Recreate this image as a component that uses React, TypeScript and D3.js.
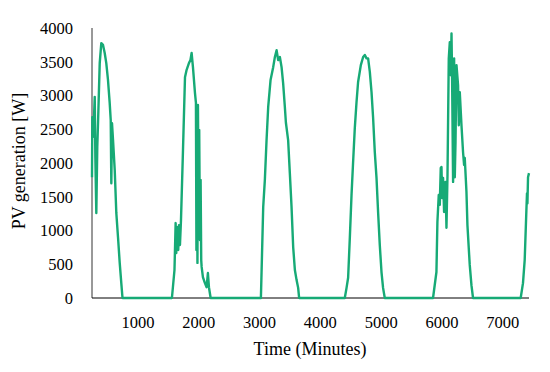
import * as d3 from 'd3';

// minutes and PV output (W)
const minutes = [
  243, 248, 260, 276, 288, 298, 314, 330, 342, 370, 396, 424, 452, 478, 506, 534, 551, 561, 572, 589, 617, 643, 671, 699, 725, 745,
  1558, 1600, 1619, 1629, 1649, 1662, 1674, 1690, 1707, 1740, 1773, 1800, 1838, 1863, 1882, 1904, 1937, 1953, 1961, 1970, 1978, 1986,
  1997, 2007, 2019, 2030, 2040, 2047, 2068, 2101, 2129, 2150, 2167, 2195,
  3022, 3060, 3087, 3115, 3142, 3181, 3224, 3252, 3280, 3306, 3334, 3362, 3388, 3416, 3433, 3470, 3498, 3526, 3553, 3581, 3609, 3635, 3651,
  4402, 4431, 4457, 4485, 4513, 4539, 4567, 4595, 4621, 4666, 4704, 4732, 4760, 4786, 4814, 4842, 4868, 4896, 4924, 4950, 4978, 5006, 5032, 5060,
  5854, 5910, 5926, 5948, 5965, 5981, 5993, 6003, 6019, 6036, 6059, 6075, 6092, 6113, 6130, 6146, 6158, 6168, 6184, 6201, 6212, 6224,
  6240, 6266, 6278, 6294, 6322, 6348, 6365, 6376, 6404, 6420, 6458, 6486, 6512,
  7296, 7334, 7362, 7390, 7400, 7407, 7417, 7433,
];
const power = [
  1790, 2680, 2385, 2680, 2980, 2090, 1260, 2240, 2590, 3480, 3775, 3750, 3630, 3480, 3230, 2890, 2635, 1700, 2590, 2340, 1895, 1260, 900, 520, 220, 0,
  0, 415, 1110, 665, 1050, 710, 1080, 785, 1150, 2190, 3270, 3380, 3480, 3525, 3630, 3420, 3040, 2890, 710, 2810, 520, 2860,
  1450, 2490, 860, 1750, 560, 460, 310, 220, 160, 370, 160, 0,
  0, 1350, 1750, 2340, 2830, 3230, 3420, 3570, 3670, 3525, 3570, 3420, 3180, 2830, 2600, 2340, 1850, 1350, 755, 415, 265, 150, 0,
  0, 150, 300, 890, 1525, 2015, 2520, 2900, 3200, 3450, 3570, 3600, 3550, 3550, 3350, 3050, 2670, 2160, 1780, 1275, 785, 385, 150, 0,
  0, 385, 1125, 1525, 1380, 1925, 1940, 1480, 1780, 1275, 1720, 1040, 1820, 3550, 3790, 3300, 3920, 3230, 1720, 3550, 1790, 2310,
  3450, 3150, 2560, 3050, 2560, 2160, 1970, 2075, 1570, 1080, 490, 190, 0,
  0, 220, 560, 1300, 1550, 1400, 1790, 1850,
];
const xTicks = [1000, 2000, 3000, 4000, 5000, 6000, 7000];
const yTicks = [0, 500, 1000, 1500, 2000, 2500, 3000, 3500, 4000];

const W = 550;
const H = 372;
const left = 92;
const right = 529;
const top = 28;
const bottom = 298;
const font = '"Liberation Serif", "DejaVu Serif", serif';

export default function App() {
  const x = d3.scaleLinear().domain([243, 7433]).range([left, right]);
  const y = d3.scaleLinear().domain([0, 4000]).range([bottom, top]);
  const pts = minutes.map((m, i) => [m, power[i]] as [number, number]);
  const line = d3
    .line<[number, number]>()
    .x((d) => x(d[0]))
    .y((d) => y(d[1]));

  return (
    <svg
      width={W}
      height={H}
      style={{ position: 'absolute', left: 0, top: 0, background: '#fff' }}
      fontFamily={font}
    >
      <line x1={left} x2={left} y1={top} y2={bottom} stroke="#333" strokeWidth={1} />
      <line x1={left} x2={right} y1={bottom} y2={bottom} stroke="#000" strokeWidth={1} />
      {yTicks.map((t) => (
        <text key={t} x={73} y={y(t)} dy="0.35em" textAnchor="end" fontSize={16.5} fill="#000">
          {t}
        </text>
      ))}
      {xTicks.map((t) => (
        <text key={t} x={x(t)} y={328} textAnchor="middle" fontSize={16.5} fill="#000">
          {t}
        </text>
      ))}
      <path d={line(pts) ?? ''} fill="none" stroke="#17aa76" strokeWidth={2.4} strokeLinejoin="round" />
      <text x={310} y={355} textAnchor="middle" fontSize={18} fill="#000">
        Time (Minutes)
      </text>
      <text
        transform={`translate(25, ${161}) rotate(-90)`}
        textAnchor="middle"
        fontSize={18}
        fill="#000"
      >
        PV generation [W]
      </text>
    </svg>
  );
}
